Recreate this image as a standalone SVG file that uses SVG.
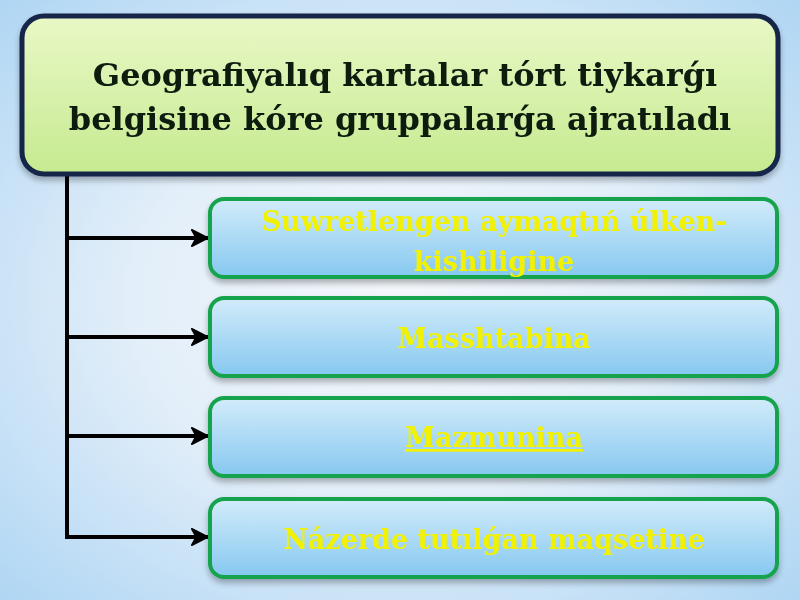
<svg xmlns="http://www.w3.org/2000/svg" width="800" height="600" viewBox="0 0 800 600">
<defs>
<radialGradient id="bg" cx="0.5" cy="0.5" r="0.75">
<stop offset="0" stop-color="#f4f8fc"/>
<stop offset="0.45" stop-color="#e2eef9"/>
<stop offset="1" stop-color="#a9d3f3"/>
</radialGradient>
<linearGradient id="gfill" x1="0" y1="0" x2="0" y2="1">
<stop offset="0" stop-color="#e9f8c6"/>
<stop offset="1" stop-color="#c6ea90"/>
</linearGradient>
<linearGradient id="bfill" x1="0" y1="0" x2="0" y2="1">
<stop offset="0" stop-color="#d2ecfa"/>
<stop offset="1" stop-color="#86c8f0"/>
</linearGradient>
<filter id="sh" x="-5%" y="-10%" width="110%" height="130%">
<feGaussianBlur in="SourceAlpha" stdDeviation="3"/>
<feOffset dx="0" dy="4"/>
<feComponentTransfer><feFuncA type="linear" slope="0.3"/></feComponentTransfer>
<feMerge><feMergeNode/><feMergeNode in="SourceGraphic"/></feMerge>
</filter>
<marker id="ah" viewBox="0 0 10 10" refX="9.5" refY="5" markerWidth="4.5" markerHeight="4.5" orient="auto" markerUnits="strokeWidth">
<path d="M0.5,0.5 L9.5,5 L0.5,9.5 L3,5 Z" fill="#000" stroke="#000" stroke-width="1" stroke-linejoin="round"/>
</marker>
<style>
.title{font-family:"DejaVu Serif","Liberation Serif",serif;font-weight:bold;font-size:32px;fill:#0d1a10;text-anchor:middle}
.lab{font-family:"DejaVu Serif","Liberation Serif",serif;font-weight:bold;font-size:27px;fill:#f2f200;text-anchor:middle}
.child rect{fill:url(#bfill);stroke:#17a34d;stroke-width:4}
.conn{stroke:#000;stroke-width:4;fill:none}
</style>
</defs>
<rect width="800" height="600" fill="url(#bg)"/>
<g id="conns">
<path class="conn" d="M67,176 V539"/>
<path class="conn" d="M65,238 H208" marker-end="url(#ah)"/>
<path class="conn" d="M65,337 H208" marker-end="url(#ah)"/>
<path class="conn" d="M65,436 H208" marker-end="url(#ah)"/>
<path class="conn" d="M65,537 H208" marker-end="url(#ah)"/>
</g>
<g id="root" filter="url(#sh)">
<rect x="22" y="16" width="756" height="158" rx="22" fill="url(#gfill)" stroke="#12254a" stroke-width="5"/>
<text class="title" x="405" y="86">Geografiyalıq kartalar tórt tiykarǵı</text>
<text class="title" x="400" y="130">belgisine kóre gruppalarǵa ajratıladı</text>
</g>
<g id="n1" class="child" filter="url(#sh)">
<rect x="210" y="199" width="567" height="78" rx="14"/>
<text class="lab" x="494" y="231">Suwretlengen aymaqtıń úlken-</text>
<text class="lab" x="494" y="271">kishiligine</text>
</g>
<g id="n2" class="child" filter="url(#sh)">
<rect x="210" y="298" width="567" height="78" rx="14"/>
<text class="lab" x="494" y="348">Masshtabina</text>
</g>
<g id="n3" class="child" filter="url(#sh)">
<rect x="210" y="398" width="567" height="78" rx="14"/>
<text class="lab" x="494" y="447" text-decoration="underline">Mazmunina</text>
</g>
<g id="n4" class="child" filter="url(#sh)">
<rect x="210" y="499" width="567" height="78" rx="14"/>
<text class="lab" x="494" y="549">Názerde tutılǵan maqsetine</text>
</g>
</svg>
